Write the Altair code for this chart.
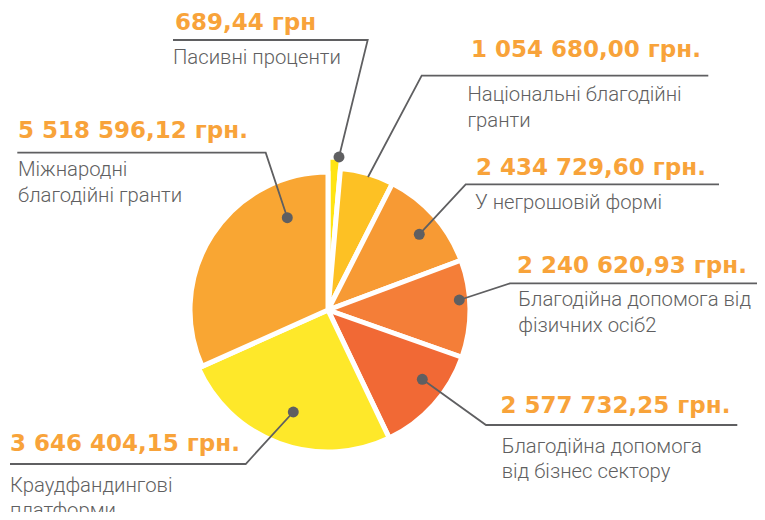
import altair as alt
import pandas as pd

# ---- data ----
categories = [
    "Пасивні проценти",
    "Національні благодійні гранти",
    "У негрошовій формі",
    "Благодійна допомога від фізичних осіб2",
    "Благодійна допомога від бізнес сектору",
    "Краудфандингові платформи",
    "Міжнародні благодійні гранти",
]
amount_labels = [
    "689,44 грн",
    "1 054 680,00 грн.",
    "2 434 729,60 грн.",
    "2 240 620,93 грн.",
    "2 577 732,25 грн.",
    "3 646 404,15 грн.",
    "5 518 596,12 грн.",
]
# slice shares (%) as drawn in the picture
shares = [1.4, 6.1, 11.8, 11.1, 12.5, 25.4, 31.7]
label_texts = [
    "Пасивні проценти",
    "Національні благодійні\nгранти",
    "У негрошовій формі",
    "Благодійна допомога від\nфізичних осіб2",
    "Благодійна допомога\nвід бізнес сектору",
    "Краудфандингові\nплатформи",
    "Міжнародні\nблагодійні гранти",
]

# ---- styles ----
colors = ["#FFE413", "#FDC124", "#F79A34", "#F47E38", "#F16935", "#FEE82A", "#F9A633"]
radii = [153, 142, 142, 142, 142, 142, 138]
ORANGE = "#F8A33A"
GREY = "#5F5F61"

# ---- annotation layout (page pixels) ----
# dot point, elbow point, end of underline, value text anchor, label text anchor, has dot
layout = [
    ((339, 157), (367.7, 40), (173, 40), (175, 30), (173, 64), True),
    ((368, 177), (421.7, 75.7), (708.3, 75.7), (471, 56.5), (467.5, 101), False),
    ((419.3, 234.3), (465.7, 184.3), (719, 184.3), (476, 175), (475, 209.3), True),
    ((459.3, 300), (510, 283.3), (765, 283.3), (517, 272.5), (518.3, 306), True),
    ((422.3, 379.3), (486, 425), (737.3, 425), (500.5, 413.3), (501.7, 452.7), True),
    ((293.3, 412), (245.7, 464), (10, 464), (10, 451), (10, 491.7), True),
    ((287.3, 217.7), (265.7, 152.7), (17.3, 152.7), (18, 138.3), (18, 176), True),
]
M = 8  # page margin
CX, CY = 328 - M, 310 - M

pie_df = pd.DataFrame({
    "cat": categories,
    "share": shares,
    "idx": list(range(len(categories))),
    "r": radii,
})

line_rows, dot_rows, val_rows, lab_rows = [], [], [], []
for i, (dot, elbow, end, vpos, lpos, has_dot) in enumerate(layout):
    for k, p in enumerate([dot, elbow, end]):
        line_rows.append({"cat": categories[i], "k": k, "px": p[0] - M, "py": p[1] - M})
    if has_dot:
        dot_rows.append({"cat": categories[i], "px": dot[0] - M, "py": dot[1] - M})
    val_rows.append({"t": amount_labels[i], "px": vpos[0] - M, "py": vpos[1] - M})
    lab_rows.append({"t": label_texts[i], "px": lpos[0] - M, "py": lpos[1] - M})

line_df = pd.DataFrame(line_rows)
dot_df = pd.DataFrame(dot_rows)
val_df = pd.DataFrame(val_rows)
lab_df = pd.DataFrame(lab_rows)

pie = alt.Chart(pie_df).transform_window(
    cum="sum(share)", sort=[alt.SortField("idx", order="ascending")], frame=[None, 0]
).transform_calculate(
    a0="(datum.cum - datum.share) / 100 * 2 * PI",
    a1="datum.cum / 100 * 2 * PI",
).mark_arc(stroke="white", strokeWidth=5, strokeJoin="round").encode(
    theta=alt.Theta("a0:Q", scale=None),
    theta2="a1:Q",
    radius=alt.Radius("r:Q", scale=None),
    color=alt.Color("cat:N", scale=alt.Scale(domain=categories, range=colors), legend=None),
    x=alt.value(CX),
    y=alt.value(CY),
)

lines = alt.Chart(line_df).mark_line(color=GREY, strokeWidth=1.8).encode(
    x=alt.X("px:Q", scale=None, axis=None),
    y=alt.Y("py:Q", scale=None, axis=None),
    detail="cat:N",
    order="k:Q",
)

dots = alt.Chart(dot_df).mark_circle(color=GREY, size=120, opacity=1).encode(
    x=alt.X("px:Q", scale=None, axis=None),
    y=alt.Y("py:Q", scale=None, axis=None),
)

values = alt.Chart(val_df).mark_text(
    align="left", baseline="alphabetic", font="DejaVu Sans", fontWeight="bold",
    fontSize=23, color=ORANGE,
).encode(
    x=alt.X("px:Q", scale=None, axis=None),
    y=alt.Y("py:Q", scale=None, axis=None),
    text="t:N",
)

labels = alt.Chart(lab_df).mark_text(
    align="left", baseline="alphabetic", font="Roboto", fontWeight=300,
    fontSize=20.3, color=GREY, lineBreak="\n", lineHeight=25.5,
).encode(
    x=alt.X("px:Q", scale=None, axis=None),
    y=alt.Y("py:Q", scale=None, axis=None),
    text="t:N",
)

chart = alt.layer(pie, lines, dots, values, labels).properties(
    width=749, height=504, autosize="none", padding=0, background="white"
).configure_view(stroke=None)

chart.save("out.html", embed_options={"renderer": "svg", "actions": False})
